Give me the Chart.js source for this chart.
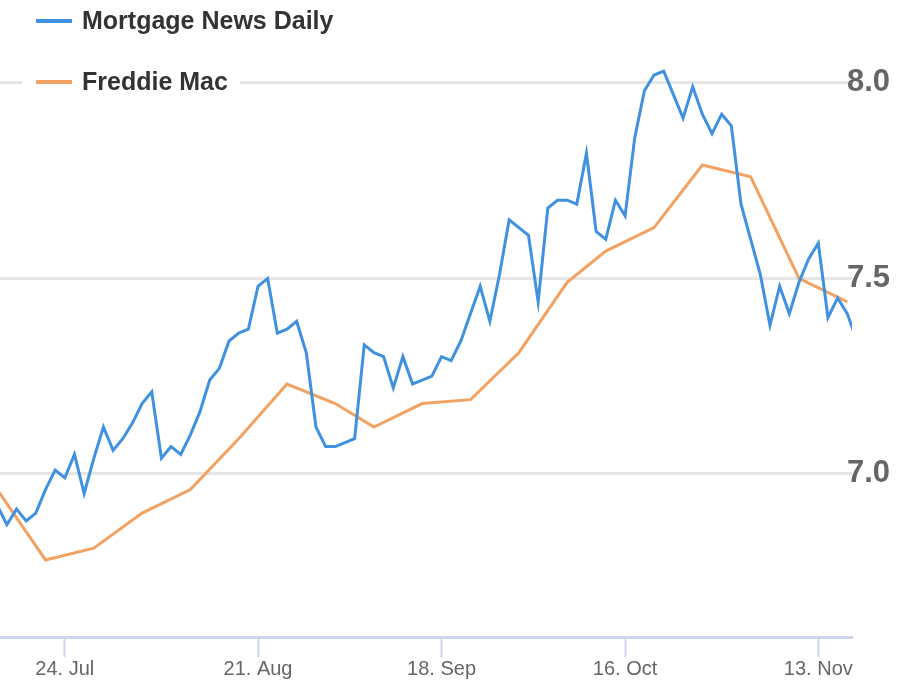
<!DOCTYPE html>
<html>
<head>
<meta charset="utf-8">
<script src="https://cdn.jsdelivr.net/npm/chart.js@4.4.0/dist/chart.umd.min.js"></script>
<style>
  html, body { margin: 0; padding: 0; background: #fff; }
  #wrap { position: relative; width: 901px; height: 688px; overflow: hidden; }
</style>
</head>
<body>
<div id="wrap"><canvas id="rates" width="901" height="688"></canvas></div>
<script>
// Trading days only (bond market closed Sep 4 and Oct 9), evenly spaced like a stock chart
const mndDates = [
  '2023-07-13', '2023-07-14', '2023-07-17', '2023-07-18', '2023-07-19', '2023-07-20', '2023-07-21',
  '2023-07-24', '2023-07-25', '2023-07-26', '2023-07-27', '2023-07-28',
  '2023-07-31', '2023-08-01', '2023-08-02', '2023-08-03', '2023-08-04',
  '2023-08-07', '2023-08-08', '2023-08-09', '2023-08-10', '2023-08-11',
  '2023-08-14', '2023-08-15', '2023-08-16', '2023-08-17', '2023-08-18',
  '2023-08-21', '2023-08-22', '2023-08-23', '2023-08-24', '2023-08-25',
  '2023-08-28', '2023-08-29', '2023-08-30', '2023-08-31', '2023-09-01',
  '2023-09-05', '2023-09-06', '2023-09-07', '2023-09-08',
  '2023-09-11', '2023-09-12', '2023-09-13', '2023-09-14', '2023-09-15',
  '2023-09-18', '2023-09-19', '2023-09-20', '2023-09-21', '2023-09-22',
  '2023-09-25', '2023-09-26', '2023-09-27', '2023-09-28', '2023-09-29',
  '2023-10-02', '2023-10-03', '2023-10-04', '2023-10-05', '2023-10-06',
  '2023-10-10', '2023-10-11', '2023-10-12', '2023-10-13',
  '2023-10-16', '2023-10-17', '2023-10-18', '2023-10-19', '2023-10-20',
  '2023-10-23', '2023-10-24', '2023-10-25', '2023-10-26', '2023-10-27',
  '2023-10-30', '2023-10-31', '2023-11-01', '2023-11-02', '2023-11-03',
  '2023-11-06', '2023-11-07', '2023-11-08', '2023-11-09', '2023-11-10',
  '2023-11-13', '2023-11-14', '2023-11-15', '2023-11-16', '2023-11-17'
];
const mndRates = [
  6.92, 6.87, 6.91, 6.88, 6.90, 6.96, 7.01,
  6.99, 7.05, 6.95, 7.04, 7.12,
  7.06, 7.09, 7.13, 7.18, 7.21,
  7.04, 7.07, 7.05, 7.10, 7.16,
  7.24, 7.27, 7.34, 7.36, 7.37,
  7.48, 7.50, 7.36, 7.37, 7.39,
  7.31, 7.12, 7.07, 7.07, 7.08,
  7.09, 7.33, 7.31, 7.30,
  7.22, 7.30, 7.23, 7.24, 7.25,
  7.30, 7.29, 7.34, 7.41, 7.48,
  7.39, 7.51, 7.65, 7.63, 7.61,
  7.44, 7.68, 7.70, 7.70, 7.69,
  7.82, 7.62, 7.60, 7.70,
  7.66, 7.86, 7.98, 8.02, 8.03,
  7.97, 7.91, 7.99, 7.92, 7.87,
  7.92, 7.89, 7.69, 7.60, 7.51,
  7.38, 7.48, 7.41, 7.49, 7.55,
  7.59, 7.40, 7.45, 7.41, 7.34
];

// Freddie Mac weekly survey (Thursdays)
const freddieDates = [
  '2023-07-13', '2023-07-20', '2023-07-27', '2023-08-03', '2023-08-10', '2023-08-17',
  '2023-08-24', '2023-08-31', '2023-09-07', '2023-09-14', '2023-09-21', '2023-09-28',
  '2023-10-05', '2023-10-12', '2023-10-19', '2023-10-26', '2023-11-02', '2023-11-09', '2023-11-16'
];
const freddieRates = [
  6.96, 6.78, 6.81, 6.90, 6.96, 7.09,
  7.23, 7.18, 7.12, 7.18, 7.19, 7.31,
  7.49, 7.57, 7.63, 7.79, 7.76, 7.50, 7.44
];

const tickDates = ['2023-07-24', '2023-08-21', '2023-09-18', '2023-10-16', '2023-11-13'];
const rateTicks = [7.0, 7.5, 8.0];
const seriesNames = ['Mortgage News Daily', 'Freddie Mac'];
const MONTHS = ['Jan', 'Feb', 'Mar', 'Apr', 'May', 'Jun', 'Jul', 'Aug', 'Sep', 'Oct', 'Nov', 'Dec'];

const FONT = '"Liberation Sans", Arial, sans-serif';
const BLUE = '#4191e1';
const ORANGE = '#f2a262';

function fmtDate(iso) {
  const [, m, d] = iso.split('-').map(Number);
  return `${d}. ${MONTHS[m - 1]}`;
}

// no label padding around the plot, the chart is cropped tight
function noPadding(scale) {
  scale.paddingTop = 0;
  scale.paddingBottom = 0;
  scale.paddingLeft = 0;
  scale.paddingRight = 0;
}

// Legend sits on top of the plot, top-left, with a white backing behind each item
const overlayLegend = {
  id: 'overlayLegend',
  afterDraw(chart) {
    const ctx = chart.ctx;
    ctx.save();
    ctx.font = `bold 25px ${FONT}`;
    ctx.textBaseline = 'middle';
    chart.data.datasets.forEach((ds, i) => {
      const y = 21 + i * 61;
      const w = ctx.measureText(ds.label).width;
      ctx.fillStyle = '#fff';
      ctx.fillRect(22, y - 17, 82 + w + 12 - 22, 34);
      ctx.strokeStyle = ds.borderColor;
      ctx.lineWidth = 4;
      ctx.beginPath();
      ctx.moveTo(36, y);
      ctx.lineTo(72, y);
      ctx.stroke();
      ctx.fillStyle = '#333';
      ctx.fillText(ds.label, 82, y + 1);
    });
    ctx.restore();
  }
};

const chart = new Chart(document.getElementById('rates'), {
  type: 'line',
  data: {
    datasets: [
      {
        label: seriesNames[0],
        data: mndDates.map((d, i) => ({ x: i, y: mndRates[i] })),
        borderColor: BLUE,
        borderWidth: 3,
        pointRadius: 0,
        tension: 0
      },
      {
        label: seriesNames[1],
        data: freddieDates.map((d, i) => ({ x: mndDates.indexOf(d), y: freddieRates[i] })),
        borderColor: ORANGE,
        borderWidth: 3,
        pointRadius: 0,
        tension: 0
      }
    ]
  },
  options: {
    responsive: false,
    animation: false,
    devicePixelRatio: 1,
    layout: { padding: 0 },
    plugins: {
      legend: { display: false },
      tooltip: { enabled: false }
    },
    scales: {
      x: {
        type: 'linear',
        position: 'bottom',
        min: 0.29,
        max: 88.49,
        afterBuildTicks: (scale) => {
          scale.ticks = tickDates.map(d => ({ value: mndDates.indexOf(d) }));
        },
        afterFit: (scale) => { scale.height = 51; noPadding(scale); },
        grid: {
          drawOnChartArea: false,
          drawTicks: true,
          tickLength: 20,
          tickColor: '#ccd6eb',
          tickWidth: 2
        },
        border: { color: '#ccd6eb', width: 3 },
        ticks: {
          autoSkip: false,
          maxRotation: 0,
          padding: 0,
          color: '#666',
          font: { family: FONT, size: 20 },
          callback: (v) => fmtDate(mndDates[v])
        }
      },
      y: {
        type: 'linear',
        position: 'right',
        min: 6.583,
        max: 8.212,
        afterBuildTicks: (scale) => {
          scale.ticks = rateTicks.map(v => ({ value: v }));
        },
        afterFit: (scale) => { scale.width = 49; noPadding(scale); },
        grid: { color: '#e6e6e6', lineWidth: 3, drawTicks: false },
        border: { display: false },
        ticks: {
          mirror: true,
          padding: 38,
          color: '#666',
          font: { family: FONT, size: 31, weight: 'bold' },
          callback: (v) => v.toFixed(1)
        }
      }
    }
  },
  plugins: [overlayLegend]
});
</script>
</body>
</html>
